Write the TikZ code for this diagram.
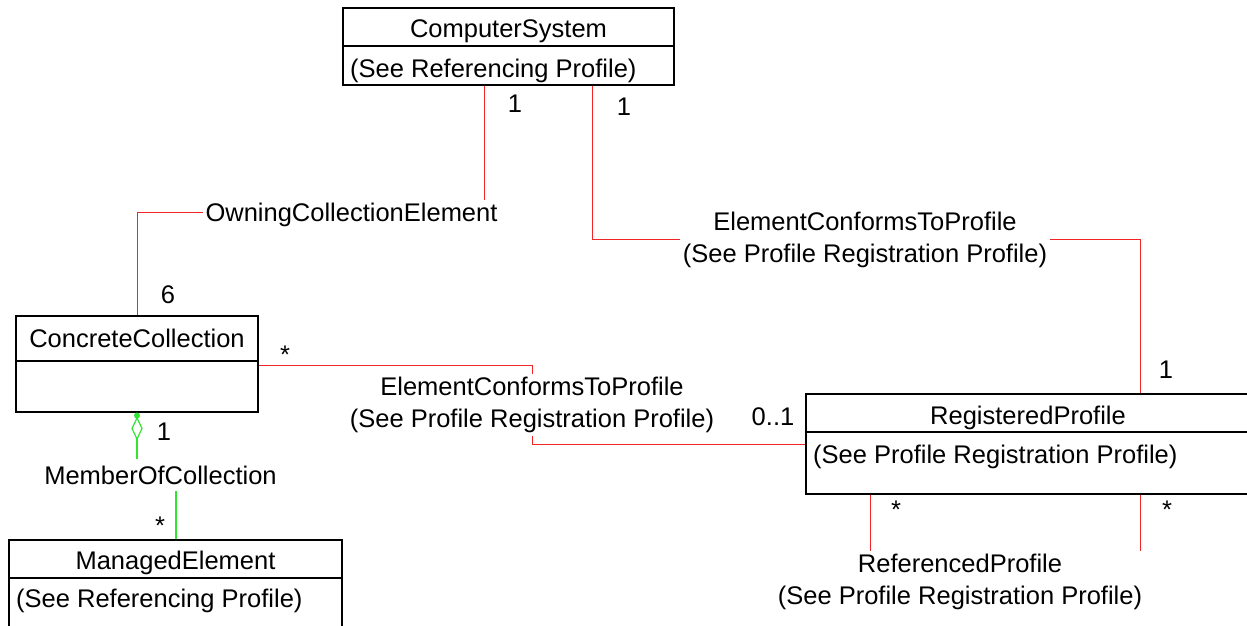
\documentclass[tikz,border=0pt]{standalone}
\usepackage{fontspec}
\setmainfont{Liberation Sans}
\begin{document}
\definecolor{assocred}{rgb}{0.95,0.15,0.15}
\definecolor{aggrgreen}{rgb}{0.2,0.9,0.2}
\tikzset{
  txt/.style={font=\fontsize{25.5}{32}\selectfont, inner sep=0pt},
  classbox/.style={draw=black, line width=1.3pt, inner sep=0pt},
  lbl/.style={txt, fill=white, inner sep=3pt, align=center},
  redline/.style={draw=assocred, line width=1pt},
  greenline/.style={draw=aggrgreen, line width=1.2pt}
}
\begin{tikzpicture}[x=1pt,y=-1pt]
\useasboundingbox (0,0) rectangle (1247,625);

% --- classes ---
\node[classbox, minimum width=331pt, minimum height=77pt] (cs) at (508.5,46.5) {};
\draw[line width=1.3pt] ([yshift=0.5pt]cs.west) -- ([yshift=0.5pt]cs.east);
\node[txt, anchor=base] (cst) at (508.5,37) {ComputerSystem};
\node[txt, anchor=base west] (csa) at (350,77) {(See Referencing Profile)};

\node[classbox, minimum width=242pt, minimum height=96pt] (cc) at (137,364) {};
\draw[line width=1.3pt] ([yshift=3pt]cc.west) -- ([yshift=3pt]cc.east);
\node[txt, anchor=base] (cct) at (137,347) {ConcreteCollection};

\node[classbox, minimum width=454pt, minimum height=100pt] (rp) at (1033,444) {};
\draw[line width=1.3pt] ([yshift=12pt]rp.west) -- ([yshift=12pt]rp.east);
\node[txt, anchor=base] (rpt) at (1028,424) {RegisteredProfile};
\node[txt, anchor=base west] (rpa) at (813,463) {(See Profile Registration Profile)};

\node[classbox, minimum width=333pt, minimum height=100pt] (me) at (175.5,590) {};
\draw[line width=1.3pt] ([yshift=12pt]me.west) -- ([yshift=12pt]me.east);
\node[txt, anchor=base] (met) at (175.5,569) {ManagedElement};
\node[txt, anchor=base west] (mea) at (16,607) {(See Referencing Profile)};

% --- connectors ---
\draw[redline] ([xshift=-24.5pt]cs.south) -- ++(0,127) -| (cc.north);
\node[lbl, anchor=base] (owning) at (351.5,221) {OwningCollectionElement};

\draw[redline] ([xshift=83.5pt]cs.south) -- ++(0,154) -| ([xshift=107pt]rp.north);
\node[lbl] (ectp1) at (865,240) {ElementConformsToProfile\\(See Profile Registration Profile)};

\draw[redline] ([yshift=-1pt]cc.east) -- ++(274,0) |- (rp.west);
\node[lbl] (ectp2) at (532,405) {ElementConformsToProfile\\(See Profile Registration Profile)};

\draw[redline] ([xshift=-163pt]rp.south) -- ++(0,86) -| ([xshift=107pt]rp.south);
\node[lbl] (refp) at (960,582) {ReferencedProfile\\(See Profile Registration Profile)};

\draw[greenline] (cc.south) -- ++(0,63) -| ([xshift=0.5pt]me.north);
\node[lbl, anchor=base, inner ysep=7pt] (moc) at (160.5,484) {MemberOfCollection};
\draw[greenline, fill=white] (137,418) -- (142,428.5) -- (137,439) -- (132,428.5) -- cycle;
\fill[aggrgreen] (137,415.5) circle (3pt);

% --- multiplicities ---
\node[txt, anchor=base] (m1) at (515,112) {1};
\node[txt, anchor=base] (m2) at (624,115) {1};
\node[txt, anchor=base] (m3) at (168,303) {6};
\node[txt, anchor=base] (m4) at (1166,378) {1};
\node[txt, anchor=base] (m5) at (285,363) {*};
\node[txt, anchor=base] (m6) at (773,425) {0..1};
\node[txt, anchor=base] (m7) at (896,518) {*};
\node[txt, anchor=base] (m8) at (1167,518) {*};
\node[txt, anchor=base] (m9) at (164,440) {1};
\node[txt, anchor=base] (m10) at (160,534) {*};
\end{tikzpicture}
\end{document}
